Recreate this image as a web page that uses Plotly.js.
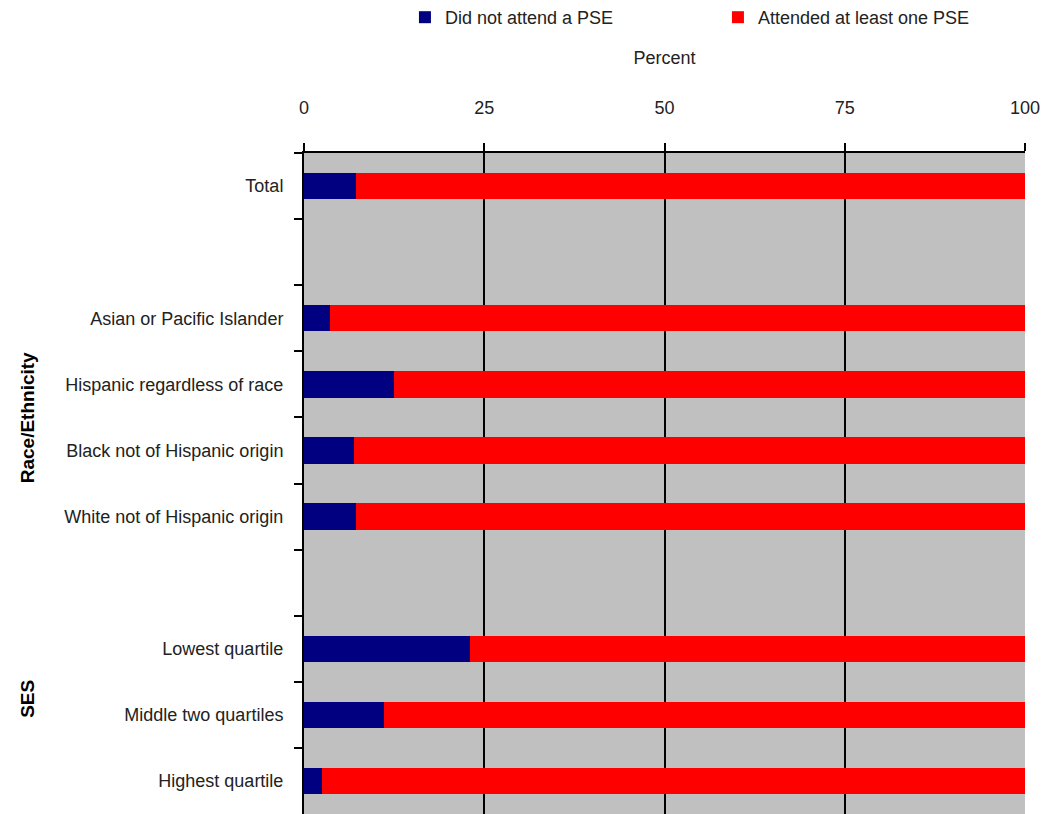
<!DOCTYPE html>
<html>
<head>
<meta charset="utf-8">
<script src="https://cdn.plot.ly/plotly-3.0.1.min.js"></script>
<style>html,body{margin:0;padding:0;background:#fff;}#chart{width:1045px;height:814px;}</style>
</head>
<body>
<div id="chart"></div>
<script>
// Categories (blank rows separate the groups)
const categories = ["Total", " ", "Asian or Pacific Islander", "Hispanic regardless of race",
  "Black not of Hispanic origin", "White not of Hispanic origin", "  ",
  "Lowest quartile", "Middle two quartiles", "Highest quartile"];
const didNotAttend = [7.2, null, 3.6, 12.5, 6.9, 7.2, null, 23.0, 11.1, 2.5];
const attended     = [92.8, null, 96.4, 87.5, 93.1, 92.8, null, 77.0, 88.9, 97.5];
const seriesNames = ["Did not attend a PSE", "Attended at least one PSE"];
const xTicks = [0, 25, 50, 75, 100];
const groupLabels = ["Race/Ethnicity", "SES"];

const FONT = "'Liberation Sans Narrow', 'Arial Narrow', 'Liberation Sans', Arial, sans-serif";

const traces = [
  {type: "bar", orientation: "h", name: seriesNames[0], y: categories, x: didNotAttend,
   marker: {color: "#000080"}, width: 0.4, hoverinfo: "x+y"},
  {type: "bar", orientation: "h", name: seriesNames[1], y: categories, x: attended,
   marker: {color: "#FF0000"}, width: 0.4, hoverinfo: "x+y"}
];

const layout = {
  width: 1045, height: 814,
  barmode: "stack",
  paper_bgcolor: "#ffffff",
  plot_bgcolor: "#C0C0C0",
  margin: {l: 304, r: 20, t: 153, b: 0, pad: 0, autoexpand: false},
  font: {family: FONT, size: 18, color: "#222"},
  showlegend: true,
  legend: {orientation: "h", x: 0.14, xanchor: "left", y: 1.205, yanchor: "middle",
    font: {family: FONT, size: 18, color: "#222"}, itemwidth: 30,
    entrywidth: 268, entrywidthmode: "pixels", traceorder: "normal", bgcolor: "rgba(0,0,0,0)"},
  xaxis: {side: "top", range: [0, 100], tickvals: xTicks, ticktext: xTicks.map(String),
    showgrid: true, gridcolor: "#000", gridwidth: 2, zeroline: false,
    showline: true, linecolor: "#000", linewidth: 2,
    ticks: "outside", ticklen: 8, tickwidth: 2, tickcolor: "#000",
    ticklabelstandoff: 22, automargin: false,
    tickfont: {family: FONT, size: 18, color: "#222"},
    title: {text: "Percent", font: {family: FONT, size: 18, color: "#222"}, standoff: 28},
    fixedrange: true},
  yaxis: {type: "category", categoryorder: "array", categoryarray: categories,
    autorange: "reversed", tickson: "boundaries", automargin: false,
    showgrid: false, zeroline: false, showline: true, linecolor: "#000", linewidth: 2,
    ticks: "outside", ticklen: 8, tickwidth: 2, tickcolor: "#000",
    ticklabelstandoff: 15,
    tickfont: {family: FONT, size: 18, color: "#222"}, fixedrange: true},
  annotations: [
    {text: "<b>" + groupLabels[0] + "</b>", xref: "paper", yref: "y", x: -0.383, y: 3.5,
     xanchor: "center", yanchor: "middle",
     textangle: -90, showarrow: false, font: {family: FONT, size: 19, color: "#000"}},
    {text: "<b>" + groupLabels[1] + "</b>", xref: "paper", yref: "y", x: -0.383, y: 7.76,
     xanchor: "center", yanchor: "middle",
     textangle: -90, showarrow: false, font: {family: FONT, size: 19, color: "#000"}}
  ]
};

Plotly.newPlot("chart", traces, layout, {displayModeBar: false, staticPlot: true});
</script>
</body>
</html>
